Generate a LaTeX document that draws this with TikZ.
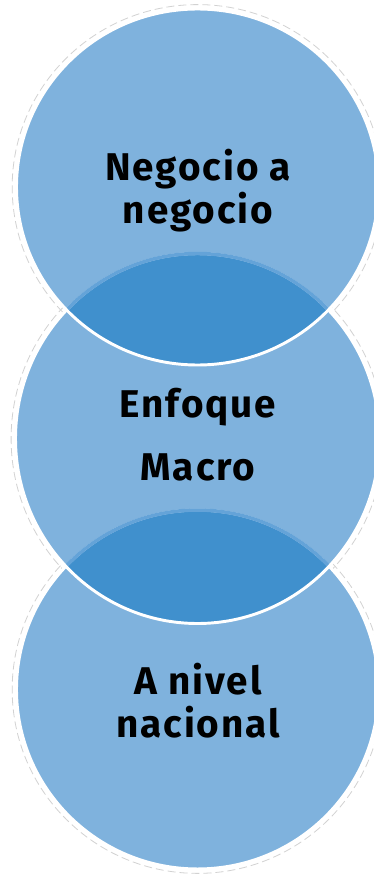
\documentclass[tikz,border=0pt]{standalone}
\usepackage{fontspec}
\setmainfont{Fira Sans}[LetterSpace=5]
\definecolor{vennlight}{RGB}{127,178,221}
\definecolor{venndark}{RGB}{64,144,205}
\definecolor{vennfaint}{RGB}{100,163,216}
\def\circA{(197.5,187) ellipse [x radius=135.75pt, y radius=133.5pt]}
\def\circB{(197.5,438.5) ellipse [x radius=136.5pt, y radius=138.75pt]}
\def\circC{(197.5,689.5) ellipse [x radius=135.75pt, y radius=134.6pt]}
\def\shadA{(197.5,187) ellipse [x radius=139pt, y radius=136.8pt]}
\def\shadB{(197.5,438.5) ellipse [x radius=139.8pt, y radius=142pt]}
\def\shadC{(197.5,689.5) ellipse [x radius=139pt, y radius=137.9pt]}
\tikzset{
  whiteline/.style={draw=white, line width=2.2pt},
  faintline/.style={draw=vennfaint, line width=2.6pt},
  shadowline/.style={draw=gray!35, line width=0.6pt, dash pattern=on 6pt off 3pt},
  label/.style={inner sep=0pt, align=center, text=black,
    font=\fontsize{29}{32.25}\selectfont\bfseries}
}
\begin{document}
\begin{tikzpicture}[x=0.75pt,y=-0.75pt]
\useasboundingbox (0,0) rectangle (374,874);
\clip (0,0) rectangle (374,874);
\fill[white] (0,0) rectangle (374,874);
% soft outer shadow
\draw[shadowline] \shadA;
\draw[shadowline] \shadB;
\draw[shadowline] \shadC;
% fills
\fill[vennlight] \circC;
\fill[vennlight] \circB;
\fill[vennlight] \circA;
% overlaps
\begin{scope}
  \clip \circA;
  \fill[venndark] \circB;
\end{scope}
\begin{scope}
  \clip \circB;
  \fill[venndark] \circC;
\end{scope}
% outlines
\draw[whiteline] \circC;
\begin{scope}
  \clip \circB;
  \draw[faintline] \circC;
\end{scope}
\draw[whiteline] \circB;
\begin{scope}
  \clip \circA;
  \draw[faintline] \circB;
\end{scope}
\draw[whiteline] \circA;
% texts
\node[label, anchor=north] (t1) at (198,149) {Negocio a\\negocio};
\node[label, anchor=north] (t2) at (198,388) {Enfoque\\[15pt]Macro};
\node[label, anchor=north] (t3) at (198,663) {A nivel\\nacional};
\end{tikzpicture}
\end{document}
